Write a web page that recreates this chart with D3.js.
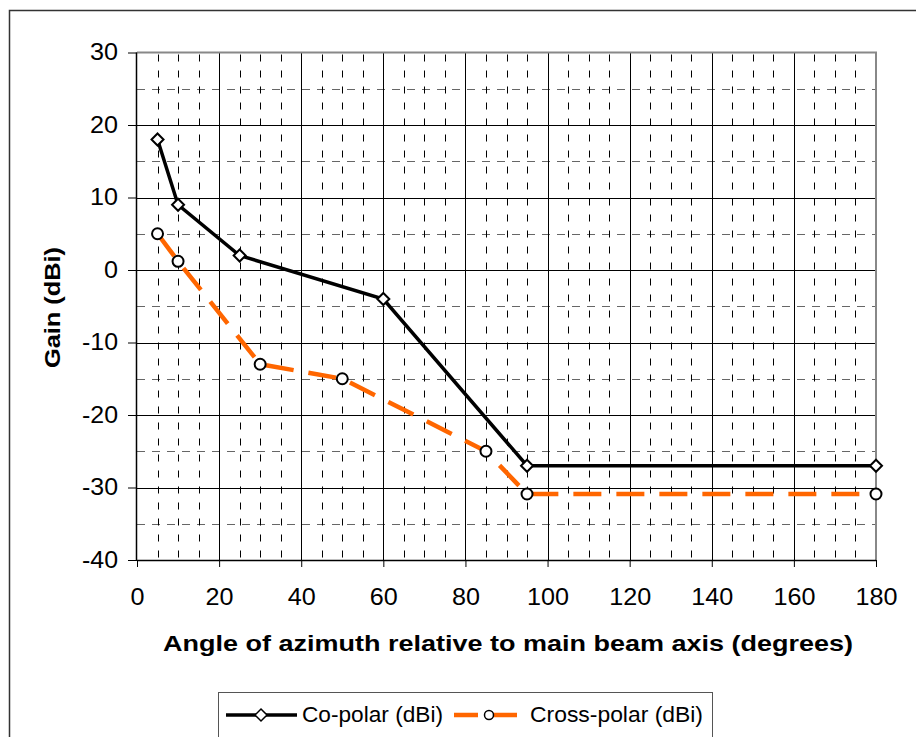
<!DOCTYPE html>
<html>
<head>
<meta charset="utf-8">
<script src="https://cdn.jsdelivr.net/npm/d3@7"></script>
<style>
  html, body { margin: 0; padding: 0; background: #fff; }
  svg { display: block; }
  text { font-family: "Liberation Sans", Arial, sans-serif; fill: #000; }
</style>
</head>
<body>
<script>
// ---- data ----
const coAngles = [5, 10, 25, 60, 95, 180];
const coGain = [18, 9, 2, -4, -27, -27];
const crossAngles = [5, 10, 30, 50, 85, 95, 180];
const crossGain = [5, 1.2, -13, -15, -25, -30.9, -30.9];
const xTicks = [0, 20, 40, 60, 80, 100, 120, 140, 160, 180];
const yTicks = [-40, -30, -20, -10, 0, 10, 20, 30];
const seriesNames = ["Co-polar (dBi)", "Cross-polar (dBi)"];
const xTitle = "Angle of azimuth relative to main beam axis (degrees)";
const yTitle = "Gain (dBi)";

const W = 916, H = 737;
const plot = { left: 137, top: 52.5, right: 876, bottom: 560 };

const svg = d3.select("body").append("svg").attr("width", W).attr("height", H);

// outer frame
svg.append("rect").attr("x", 9.5).attr("y", 10.5).attr("width", 1000).attr("height", 1000)
  .attr("fill", "none").attr("stroke", "#333").attr("stroke-width", 1.5);

const x = d3.scaleLinear().domain([0, 180]).range([plot.left, plot.right]);
const y = d3.scaleLinear().domain([-40, 30]).range([plot.bottom, plot.top]);

const g = svg.append("g");

// minor grid (every 5)
const minorX = d3.range(5, 180, 5).filter(v => v % 20 !== 0);
const minorY = d3.range(-35, 30, 10);
g.selectAll(".mgy").data(minorY).enter().append("line")
  .attr("x1", plot.left).attr("x2", plot.right)
  .attr("y1", d => Math.round(y(d)) + 0.5).attr("y2", d => Math.round(y(d)) + 0.5)
  .attr("stroke", "#666").attr("stroke-width", 1).attr("stroke-dasharray", "8,7");
g.selectAll(".mgx").data(minorX).enter().append("line")
  .attr("x1", d => Math.round(x(d)) + 0.5).attr("x2", d => Math.round(x(d)) + 0.5)
  .attr("y1", plot.top + 2).attr("y2", plot.bottom)
  .attr("stroke", "#000").attr("stroke-width", 1).attr("stroke-dasharray", "7,9");

// major grid
g.selectAll(".Mgy").data(yTicks.filter(d => d > -40 && d < 30)).enter().append("line")
  .attr("x1", plot.left).attr("x2", plot.right)
  .attr("y1", d => Math.round(y(d)) + 0.5).attr("y2", d => Math.round(y(d)) + 0.5)
  .attr("stroke", "#000").attr("stroke-width", 1);
g.selectAll(".Mgx").data(xTicks.filter(d => d > 0 && d < 180)).enter().append("line")
  .attr("x1", d => Math.round(x(d)) + 0.5).attr("x2", d => Math.round(x(d)) + 0.5)
  .attr("y1", plot.top).attr("y2", plot.bottom)
  .attr("stroke", "#000").attr("stroke-width", 1);

// plot area border top/right gray
g.append("path")
  .attr("d", `M${plot.left},${plot.top}H${plot.right}V${plot.bottom}`)
  .attr("fill", "none").attr("stroke", "#888").attr("stroke-width", 2);

// axes
const fmt = d => String(d);
const xAxis = d3.axisBottom(x).tickValues(xTicks).tickFormat(fmt).tickSize(7).tickPadding(22);
const yAxis = d3.axisLeft(y).tickValues(yTicks).tickFormat(fmt).tickSize(9).tickPadding(10);

const gx = svg.append("g").attr("transform", `translate(0,${plot.bottom})`).call(xAxis);
const gy = svg.append("g").attr("transform", `translate(${plot.left},0)`).call(yAxis);
const labelLen = s => s.replace("-", "").length * 14 + (s.includes("-") ? 8 : 0);
[gx, gy].forEach(a => {
  a.attr("font-size", null).attr("font-family", null);
  a.select(".domain").attr("stroke", "#000").attr("stroke-width", 1.5);
  a.selectAll(".tick line").attr("stroke", "#000").attr("stroke-width", 1);
  a.selectAll(".tick text")
    .style("font-size", "23px").attr("fill", "#000")
    .attr("textLength", function() { return labelLen(this.textContent); })
    .attr("lengthAdjust", "spacingAndGlyphs");
});
gx.select(".domain").attr("d", `M${plot.left},0.5H${plot.right}`);
gy.select(".domain").attr("d", `M-0.5,${plot.top}V${plot.bottom}`);

// titles
svg.append("text").attr("x", 508).attr("y", 651).attr("text-anchor", "middle")
  .attr("font-weight", "bold").style("font-size", "22px")
  .attr("textLength", 690).attr("lengthAdjust", "spacingAndGlyphs").text(xTitle);
svg.append("text").attr("transform", "translate(60,307.5) rotate(-90)")
  .attr("text-anchor", "middle").attr("font-weight", "bold").style("font-size", "22px")
  .attr("textLength", 121).attr("lengthAdjust", "spacingAndGlyphs").text(yTitle);

// series
const ORANGE = "#FF6600";
const line = d3.line().x(d => x(d[0])).y(d => y(d[1]));
const coData = coAngles.map((a, i) => [a, coGain[i]]);
const crossData = crossAngles.map((a, i) => [a, crossGain[i]]);

svg.append("path").datum(crossData).attr("d", line)
  .attr("fill", "none").attr("stroke", ORANGE).attr("stroke-width", 4.5)
  .attr("stroke-dasharray", "28,15");
svg.append("path").datum(coData).attr("d", line)
  .attr("fill", "none").attr("stroke", "#000").attr("stroke-width", 3.5);

const diamond = s => `M0,${-s}L${s},0L0,${s}L${-s},0Z`;
svg.selectAll(".dm").data(coData).enter().append("path")
  .attr("transform", d => `translate(${x(d[0])},${y(d[1])})`)
  .attr("d", diamond(6)).attr("fill", "#fff").attr("stroke", "#000").attr("stroke-width", 2);
svg.selectAll(".cm").data(crossData).enter().append("circle")
  .attr("cx", d => x(d[0])).attr("cy", d => y(d[1])).attr("r", 5.5)
  .attr("fill", "#fff").attr("stroke", "#000").attr("stroke-width", 2);

// legend
const lg = svg.append("g");
lg.append("rect").attr("x", 218.5).attr("y", 692.5).attr("width", 494).attr("height", 80)
  .attr("fill", "#fff").attr("stroke", "#555").attr("stroke-width", 1);
lg.append("line").attr("x1", 226).attr("x2", 297).attr("y1", 715).attr("y2", 715)
  .attr("stroke", "#000").attr("stroke-width", 3.5);
lg.append("path").attr("transform", "translate(261,715)").attr("d", diamond(6))
  .attr("fill", "#fff").attr("stroke", "#000").attr("stroke-width", 1.5);
lg.append("text").attr("x", 302).attr("y", 722).style("font-size", "22px")
  .attr("textLength", 141).attr("lengthAdjust", "spacingAndGlyphs").text(seriesNames[0]);
lg.append("line").attr("x1", 454).attr("x2", 517).attr("y1", 715).attr("y2", 715)
  .attr("stroke", ORANGE).attr("stroke-width", 4.5).attr("stroke-dasharray", "24,15");
lg.append("circle").attr("cx", 489).attr("cy", 715).attr("r", 4.5)
  .attr("fill", "#fff").attr("stroke", "#000").attr("stroke-width", 1.5);
lg.append("text").attr("x", 530).attr("y", 722).style("font-size", "22px")
  .attr("textLength", 173).attr("lengthAdjust", "spacingAndGlyphs").text(seriesNames[1]);
</script>
</body>
</html>
